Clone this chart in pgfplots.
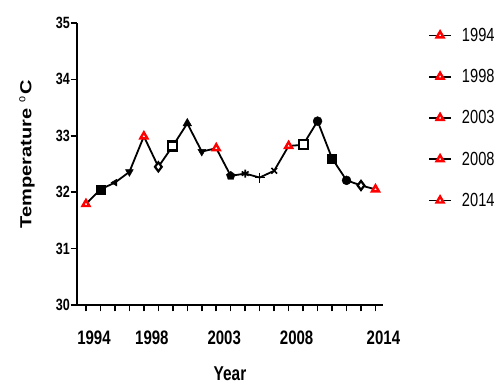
\documentclass[border=0pt]{standalone}
\usepackage{pgfplots}
\pgfplotsset{compat=1.18}
\usepackage{fontspec}
\setmainfont{Liberation Sans}[FakeStretch=0.77]
\newfontfamily\plainfont{Liberation Sans}
\begin{document}
\begin{tikzpicture}
\useasboundingbox (0pt,0pt) rectangle (501pt,385pt);
\begin{axis}[
  at={(77pt,80pt)}, anchor=south west,
  scale only axis, width=306pt, height=282pt,
  xmin=1993.38, xmax=2014.52, ymin=30, ymax=35,
  axis x line*=bottom, axis y line*=left,
  axis line style={-, line width=1.8pt},
  xtick={1994,...,2014},
  xticklabels={1994,,,,1998,,,,,2003,,,,,2008,,,,,,2014},
  ytick={30,31,32,33,34,35},
  tick align=outside,
  major tick length=6.5pt,
  x tick style={line width=1.5pt, black},
  y tick style={line width=1.5pt, black},
  /pgf/number format/assume math mode=true,
  yticklabel style={font=\fontsize{16.3}{16}\selectfont\bfseries, inner sep=0.5pt},
  xticklabel style={font=\fontsize{19.5}{19}\selectfont\bfseries, xshift=8pt, yshift=-19pt, inner sep=0pt},
  xlabel={Year},
  xlabel style={at={(axis description cs:0.5,-0.243)}, anchor=center, font=\fontsize{20}{20}\selectfont\bfseries},
  ylabel={\scalebox{1}[0.8]{\plainfont\bfseries Temperature $^{\mathrm{o}}$C}},
  ylabel style={at={(axis description cs:-0.163,0.535)}, anchor=center, rotate=0, font=\fontsize{20}{20}\selectfont},
  legend style={at={(axis description cs:1.147,0.99)}, anchor=north west, draw=none, fill=none,
    font=\fontsize{19}{19}\selectfont, row sep=22.5pt, column sep=8pt, inner sep=0pt,
    nodes={inner sep=2pt}},
  legend cell align=left,
  legend image code/.code={\draw[mark repeat=2,mark phase=2,#1] plot coordinates {(0pt,0pt) (11pt,0pt) (22pt,0pt)};},
  clip=false,
]
\addplot[forget plot, black, line width=1.8pt, mark=none] coordinates {
(1994,31.79) (1995,32.05) (1996,32.17) (1997,32.36) (1998,32.99)
(1999,32.45) (2000,32.82) (2001,33.22) (2002,32.72) (2003,32.78)
(2004,32.29) (2005,32.33) (2006,32.26) (2007,32.38) (2008,32.82)
(2009,32.84) (2010,33.26) (2011,32.60) (2012,32.21) (2013,32.12)
(2014,32.05)};
% filled squares
\addplot[forget plot, only marks, mark=square*, mark size=4.5pt, black] coordinates {(1995,32.05) (2011,32.60)};
% open squares
\addplot[forget plot, only marks, mark=square*, mark size=4.5pt, mark options={draw=black, fill=white, line width=2.2pt}] coordinates {(2000,32.82) (2009,32.84)};
% triangles up
\addplot[forget plot, only marks, mark=triangle*, mark size=5pt, black] coordinates {(2001,33.22)};
% triangles left
\addplot[forget plot, only marks, mark=triangle*, mark size=4pt, black, mark options={rotate=90}] coordinates {(1996,32.17)};
% triangles down
\addplot[forget plot, only marks, mark=triangle*, mark size=4.5pt, black, mark options={rotate=180}] coordinates {(1997,32.36) (2002,32.72)};
% open diamonds
\addplot[forget plot, only marks, mark=diamond*, mark size=4.5pt, mark options={draw=black, fill=white, line width=2.2pt}] coordinates {(1999,32.45) (2013,32.12)};
% filled circles
\addplot[forget plot, only marks, mark=*, mark size=4.5pt, black] coordinates {(2010,33.26) (2012,32.21)};
% hexagon-like
\addplot[forget plot, only marks, mark=pentagon*, mark size=4.5pt, black] coordinates {(2004,32.29)};
% star
\addplot[forget plot, only marks, mark=asterisk, mark size=4pt, black, mark options={line width=1.6pt}] coordinates {(2005,32.33)};
% plus
\addplot[forget plot, only marks, mark=+, mark size=5pt, black, mark options={line width=1.6pt}] coordinates {(2006,32.26)};
% x
\addplot[forget plot, only marks, mark=x, mark size=4pt, black, mark options={line width=1.6pt}] coordinates {(2007,32.38)};
% red triangles
\addplot[forget plot, only marks, mark=triangle*, mark size=4pt, mark options={draw=red, fill=white, line width=2.4pt}] coordinates {(1994,31.79) (1998,32.99) (2003,32.78) (2008,32.82) (2014,32.05)};
% legend
\addlegendimage{black, line width=1.8pt, mark=triangle*, mark size=4pt, mark options={draw=red, fill=white, line width=2.4pt}}
\addlegendentry{1994}
\addlegendimage{black, line width=1.8pt, mark=triangle*, mark size=4pt, mark options={draw=red, fill=white, line width=2.4pt}}
\addlegendentry{1998}
\addlegendimage{black, line width=1.8pt, mark=triangle*, mark size=4pt, mark options={draw=red, fill=white, line width=2.4pt}}
\addlegendentry{2003}
\addlegendimage{black, line width=1.8pt, mark=triangle*, mark size=4pt, mark options={draw=red, fill=white, line width=2.4pt}}
\addlegendentry{2008}
\addlegendimage{black, line width=1.8pt, mark=triangle*, mark size=4pt, mark options={draw=red, fill=white, line width=2.4pt}}
\addlegendentry{2014}
\end{axis}
\end{tikzpicture}
\end{document}
